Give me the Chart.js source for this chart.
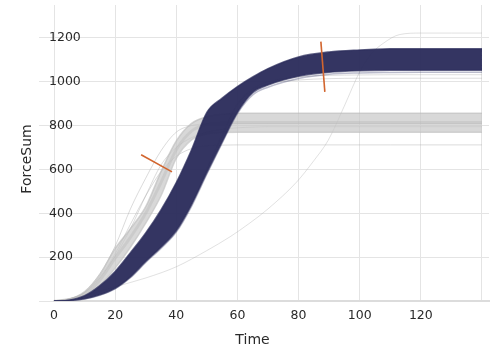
<!DOCTYPE html>
<html>
<head>
<meta charset="utf-8">
<script src="https://cdn.jsdelivr.net/npm/chart.js@4"></script>
<style>
  body { margin: 0; background: #fff; }
  #wrap { width: 500px; height: 360px; }
</style>
</head>
<body>
<div id="wrap"><canvas id="forceChart"></canvas></div>
<script>
// Time points shared by the curves
const times = [0, 5, 10, 15, 20, 25, 30, 35, 40, 45, 50, 55, 60, 65, 70, 80, 90, 100, 110, 120, 130, 140];

// dark band: earliest / latest runs
const navyUpper = [0, 4, 24, 70, 135, 220, 310, 415, 540, 690, 860, 925, 978, 1022, 1060, 1113, 1136, 1145, 1150, 1151, 1151, 1151];
const navyLower = [0, 2, 10, 28, 58, 110, 180, 245, 320, 440, 585, 725, 860, 950, 985, 1025, 1043, 1050, 1052, 1052, 1052, 1052];
const navyFaint = [0, 2, 9, 26, 55, 106, 176, 240, 314, 432, 578, 720, 855, 940, 975, 1015, 1034, 1040, 1042, 1043, 1043, 1043];

// light band
const grayUpper = [0, 8, 40, 120, 240, 330, 430, 590, 730, 810, 840, 852, 856, 856, 856, 856, 856, 856, 856, 856, 856, 856];
const grayLower = [0, 4, 22, 70, 150, 245, 355, 480, 650, 735, 762, 768, 770, 770, 770, 770, 770, 770, 770, 770, 770, 770];
const grayMid = [0, 6, 30, 95, 195, 290, 400, 540, 690, 775, 805, 812, 814, 814, 814, 814, 814, 814, 814, 814, 814, 814];
const grayThin1 = [0, 10, 45, 125, 250, 420, 560, 685, 770, 800, 808, 810, 810, 810, 810, 810, 810, 810, 810, 810, 810, 810];
const grayThin2 = [0, 8, 38, 105, 205, 330, 480, 620, 700, 745, 770, 783, 790, 793, 795, 795, 795, 795, 795, 795, 795, 795];
const grayThin3 = [0, 9, 40, 110, 215, 350, 480, 590, 660, 695, 708, 711, 712, 712, 712, 712, 712, 712, 712, 712, 712, 712];
const grayHigh1 = [0, 2, 12, 30, 60, 112, 185, 250, 325, 440, 600, 750, 895, 960, 990, 1008, 1014, 1016, 1016, 1016, 1016, 1016];
const grayHigh2 = [0, 2, 11, 29, 59, 111, 184, 248, 324, 442, 605, 760, 900, 968, 1000, 1022, 1029, 1031, 1032, 1032, 1032, 1032];

// one slow run
const slowTimes = [0, 10, 20, 30, 40, 50, 57.6, 64, 70, 79.4, 85, 89.7, 95, 100, 104, 107.7, 113, 120, 130, 140];
const slowForce = [0, 25, 65, 105, 156, 230, 293, 355, 420, 543, 640, 733, 890, 1045, 1130, 1175, 1215, 1222, 1222, 1222];

// orange markers
const mark1Times = [28.5, 38.6];
const mark1Force = [667, 589];
const mark2Times = [87.3, 88.6];
const mark2Force = [1183, 954];

// ticks
const xTicks = [0, 20, 40, 60, 80, 100, 120];
const yTicks = [200, 400, 600, 800, 1000, 1200];

const pts = (xs, ys) => xs.map((x, i) => ({ x: x, y: ys[i] }));

function curve(ys, color, width, extra) {
  return Object.assign({
    data: pts(times, ys),
    borderColor: color,
    borderWidth: width,
    pointRadius: 0,
    cubicInterpolationMode: "monotone",
    fill: false
  }, extra || {});
}

const axisTitles = {
  id: "axisTitles",
  afterDraw(chart) {
    const c = chart.ctx;
    c.save();
    c.fillStyle = "#2a2a2a";
    c.font = "14px 'DejaVu Sans'";
    c.textAlign = "center";
    c.textBaseline = "middle";
    c.fillText("Time", 252.5, 340);
    c.translate(27, 159);
    c.rotate(-Math.PI / 2);
    c.fillText("ForceSum", 0, 0);
    c.restore();
  }
};

const ctx = document.getElementById("forceChart").getContext("2d");

new Chart(ctx, {
  type: "line",
  data: {
    datasets: [
      { data: pts(mark1Times, mark1Force), borderColor: "#d2652e", borderWidth: 1.6, pointRadius: 0 },
      { data: pts(mark2Times, mark2Force), borderColor: "#d2652e", borderWidth: 1.6, pointRadius: 0 },
      curve(navyUpper, "rgba(44,45,92,0.75)", 1.5, { fill: { target: "+1" }, backgroundColor: "rgba(44,45,92,0.96)" }),
      curve(navyLower, "rgba(44,45,92,0.7)", 1.5),
      curve(navyFaint, "rgba(60,62,110,0.35)", 1.5),
      curve(grayHigh2, "rgba(170,170,170,0.4)", 1),
      curve(grayHigh1, "rgba(170,170,170,0.4)", 1),
      curve(grayMid, "rgba(175,175,175,0.3)", 3),
      curve(grayUpper, "rgba(185,185,185,0.6)", 1.5, { fill: { target: "+1" }, backgroundColor: "rgba(200,200,200,0.7)" }),
      curve(grayLower, "rgba(185,185,185,0.6)", 1.5),
      curve(grayThin1, "rgba(175,175,175,0.45)", 1),
      curve(grayThin2, "rgba(175,175,175,0.45)", 1),
      curve(grayThin3, "rgba(175,175,175,0.45)", 1),
      { data: pts(slowTimes, slowForce), borderColor: "rgba(170,170,170,0.35)", borderWidth: 1, pointRadius: 0, cubicInterpolationMode: "monotone" }
    ]
  },
  options: {
    responsive: true,
    maintainAspectRatio: false,
    animation: false,
    layout: { padding: { left: 0, right: 11, top: 5, bottom: 0 } },
    plugins: {
      legend: { display: false },
      tooltip: { enabled: false }
    },
    scales: {
      x: {
        type: "linear",
        min: 0,
        max: 142.3,
        afterFit: (s) => { s.height = 59; },
        afterBuildTicks: (s) => { s.ticks = xTicks.map(v => ({ value: v })).concat([{ value: 140 }]); },
        ticks: {
          padding: 7,
          color: "#2a2a2a",
          font: { family: "DejaVu Sans", size: 12.5 },
          callback: (v) => (xTicks.includes(v) ? v : "")
        },
        grid: { color: "#e4e4e4", lineWidth: 1, drawTicks: false },
        border: { display: true, color: "#dcdcdc", width: 2 }
      },
      y: {
        min: 0,
        max: 1350,
        afterFit: (s) => { s.width = 54; },
        afterBuildTicks: (s) => { s.ticks = [{ value: 0 }].concat(yTicks.map(v => ({ value: v }))); },
        ticks: {
          mirror: true,
          padding: -5,
          color: "#2a2a2a",
          font: { family: "DejaVu Sans", size: 12.5 },
          callback: (v) => (yTicks.includes(v) ? v : "")
        },
        grid: { color: "#e4e4e4", lineWidth: 1, tickLength: 15 },
        border: { display: false }
      }
    }
  },
  plugins: [axisTitles]
});
</script>
</body>
</html>
